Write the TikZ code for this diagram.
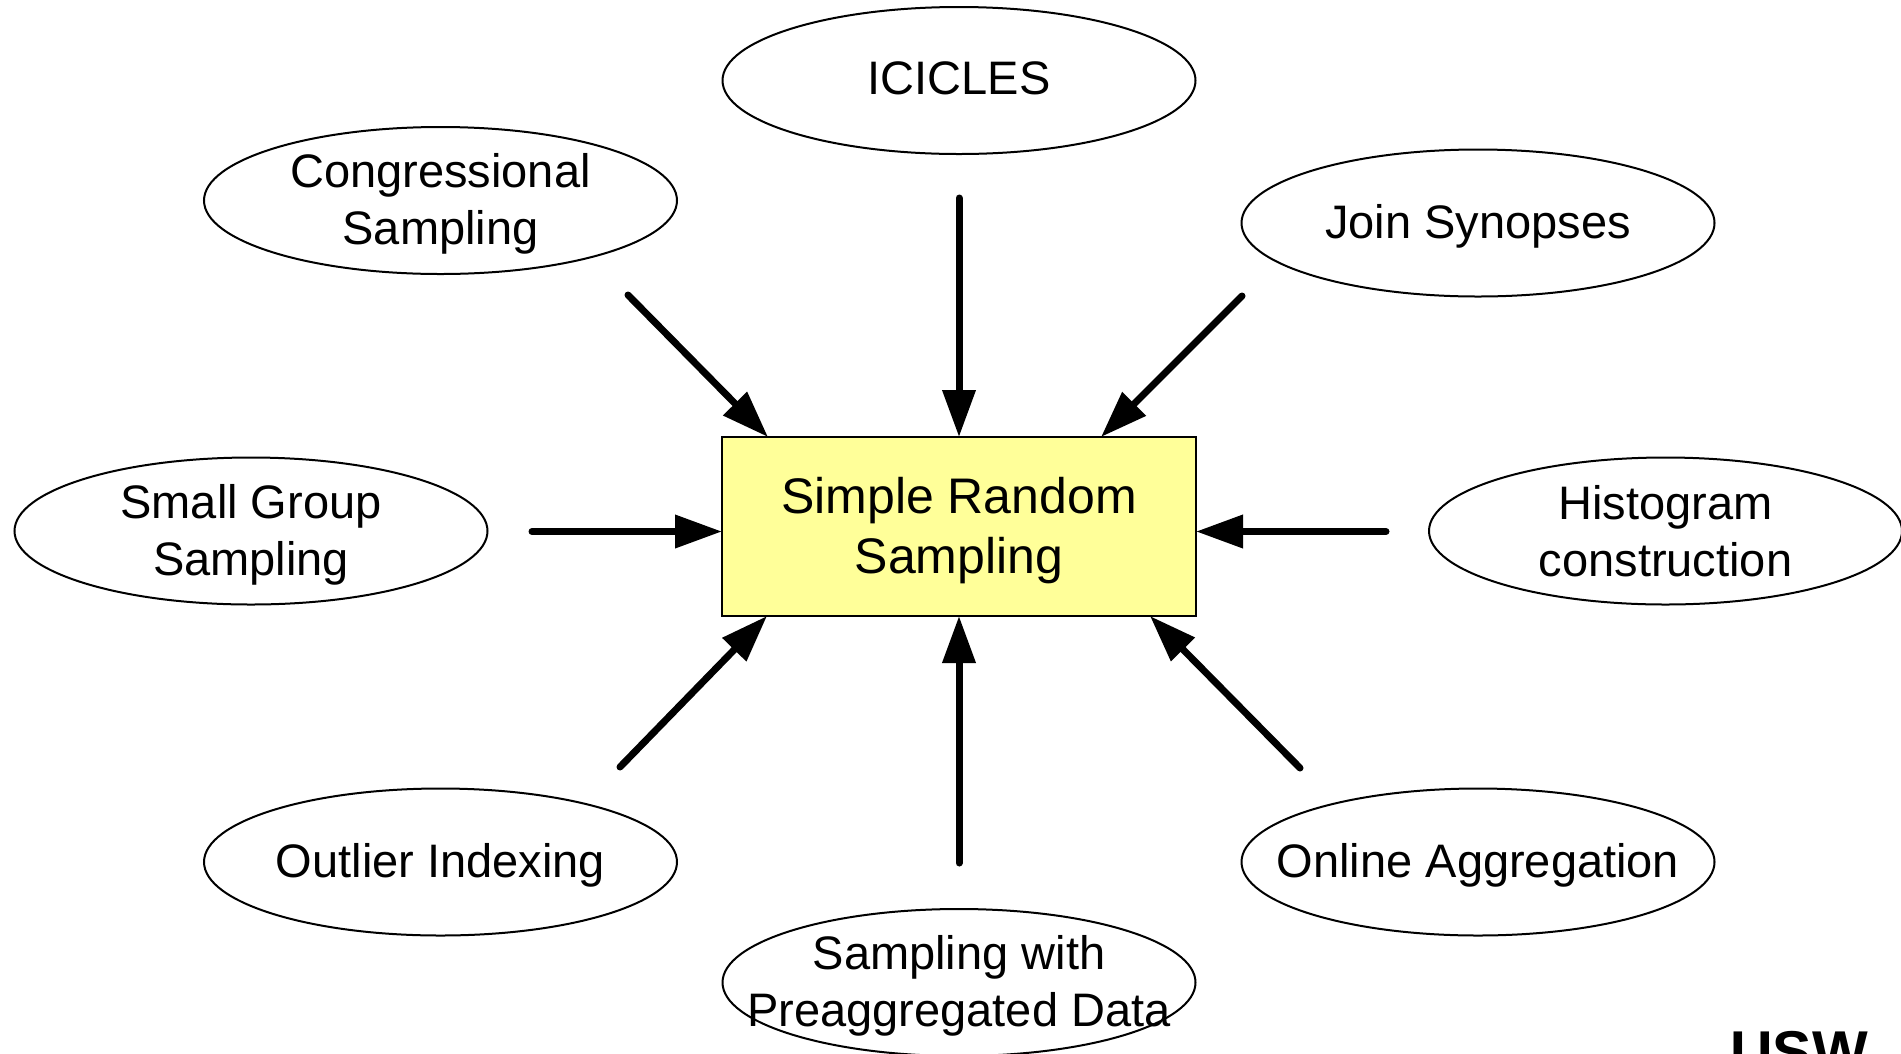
\documentclass[tikz,border=0pt]{standalone}
\usepackage{fontspec}
\setmainfont{Liberation Sans}
\usetikzlibrary{shapes.geometric,arrows.meta,calc}
\definecolor{boxfill}{HTML}{FFFF99}
\begin{document}
\begin{tikzpicture}[x=1pt,y=-1pt,
  bubble/.style={ellipse, draw=black, line width=2pt, minimum width=473pt,
    minimum height=147pt, inner sep=0pt},
  lbl/.style={align=center, font=\fontsize{47}{57}\selectfont, inner sep=0pt,
    yshift=-3.5pt},
  srs/.style={rectangle, draw=black, line width=2pt, fill=boxfill,
    minimum width=474pt, minimum height=179pt, outer sep=0pt},
  srstext/.style={align=center, font=\fontsize{50}{60}\selectfont,
    inner sep=0pt, yshift=-4pt},
  feed/.style={line width=7pt, line cap=round,
    -{Triangle[length=47pt,width=32pt]}}]

\useasboundingbox (0,0) rectangle (1901,1053);

% central box
\node[srs] (srs) at (959,526.5) {};
\node[srstext] (srs-t) at (srs) {Simple Random\\Sampling};

% surrounding techniques
\node[bubble] (icicles) at (959,80.5) {};
\node[lbl, yshift=6pt] (icicles-t) at (icicles) {ICICLES};

\node[bubble] (congr) at (440.5,200.5) {};
\node[lbl] (congr-t) at (congr) {Congressional\\Sampling};

\node[bubble] (join) at (1478,223) {};
\node[lbl] (join-t) at (join) {Join Synopses};

\node[bubble] (small) at (251,531) {};
\node[lbl] (small-t) at (small) {Small Group\\Sampling};

\node[bubble] (histo) at (1665.5,531) {};
\node[lbl, yshift=3.5pt] (histo-t) at (histo) {Histogram\\construction};

\node[bubble] (outlier) at (440.5,862) {};
\node[lbl] (outlier-t) at (outlier) {Outlier Indexing};

\node[bubble] (online) at (1478,862) {};
\node[lbl] (online-t) at (online) {Online Aggregation};

\node[bubble] (preagg) at (959,982.5) {};
\node[lbl] (preagg-t) at (preagg) {Sampling with\\Preaggregated Data};

% arrow tails
\coordinate (icicles-a) at (959,198);
\coordinate (congr-a) at (628,295);
\coordinate (join-a) at (1242,296);
\coordinate (small-a) at (532,531.5);
\coordinate (histo-a) at (1386,531.5);
\coordinate (outlier-a) at (620,767);
\coordinate (preagg-a) at (959,863);
\coordinate (online-a) at (1300,768);

% arrows into the box
\draw[feed] (icicles-a) -- (srs.north);
\draw[feed] (congr-a) -- ([xshift=46pt]srs.north west);
\draw[feed] (join-a) -- ([xshift=-95pt]srs.north east);
\draw[feed] (small-a) -- ([yshift=-5pt]srs.west);
\draw[feed] (histo-a) -- ([yshift=-5pt]srs.east);
\draw[feed] (outlier-a) -- ([xshift=45pt]srs.south west);
\draw[feed] (preagg-a) -- (srs.south);
\draw[feed] (online-a) -- ([xshift=-46pt]srs.south east);

\node[font=\bfseries\fontsize{59}{70}\selectfont, anchor=base west,
  inner sep=0pt] (usw) at (1730,1072) {USW};
\end{tikzpicture}
\end{document}
